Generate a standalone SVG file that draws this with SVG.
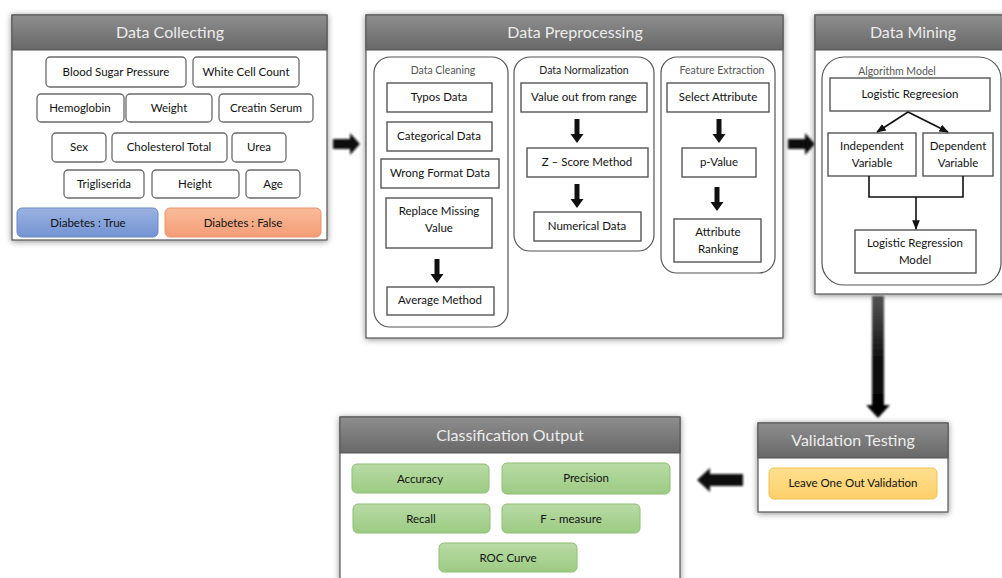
<svg xmlns="http://www.w3.org/2000/svg" width="1002" height="578" viewBox="0 0 1002 578">
<defs>
<linearGradient id="hdr" x1="0" y1="0" x2="0" y2="1"><stop offset="0" stop-color="#8e8e8e"/><stop offset="1" stop-color="#686868"/></linearGradient>
<linearGradient id="blue" x1="0" y1="0" x2="0" y2="1"><stop offset="0" stop-color="#9bb3e2"/><stop offset="1" stop-color="#7393d2"/></linearGradient>
<linearGradient id="orange" x1="0" y1="0" x2="0" y2="1"><stop offset="0" stop-color="#f9bb9a"/><stop offset="1" stop-color="#f39d76"/></linearGradient>
<linearGradient id="green" x1="0" y1="0" x2="0" y2="1"><stop offset="0" stop-color="#b8dba5"/><stop offset="1" stop-color="#9ccb82"/></linearGradient>
<linearGradient id="yellow" x1="0" y1="0" x2="0" y2="1"><stop offset="0" stop-color="#ffe08f"/><stop offset="1" stop-color="#fdd06a"/></linearGradient>
<linearGradient id="bigv" x1="0" y1="0" x2="0" y2="1"><stop offset="0" stop-color="#555"/><stop offset="0.5" stop-color="#111"/><stop offset="1" stop-color="#000"/></linearGradient>
<filter id="sh" x="-10%" y="-10%" width="120%" height="120%"><feDropShadow dx="0" dy="1" stdDeviation="3" flood-color="#000" flood-opacity="0.45"/></filter>
<filter id="soft" x="-20%" y="-20%" width="140%" height="140%"><feGaussianBlur stdDeviation="0.8"/></filter>
<marker id="ah" viewBox="0 0 10 10" refX="9" refY="5" markerWidth="6" markerHeight="6" orient="auto"><path d="M0,1 L10,5 L0,9 Z" fill="#111"/></marker>
<path id="dn" d="M-2.5,0 H2.5 V15 H6.5 L0,24 L-6.5,15 H-2.5 Z" fill="#111"/>
<style>
.panel{fill:#fff;stroke:#555;stroke-width:1.2}
.hdr{fill:url(#hdr);stroke:#555;stroke-width:1}
.title{font-family:Lato,"Liberation Sans",sans-serif;font-size:16px;fill:#ececec;text-anchor:middle}
.t{font-family:Lato,"Liberation Sans",sans-serif;font-size:11.5px;fill:#111;text-anchor:middle}
.lbl{font-family:Lato,"Liberation Sans",sans-serif;font-size:10.5px;fill:#555;text-anchor:middle}
.item{fill:#fff;stroke:#6a6a6a;stroke-width:1.3}
.box{fill:#fff;stroke:#555;stroke-width:1.4}
.grp{fill:#fff;stroke:#555;stroke-width:1.2}
.gr{fill:url(#green);stroke:#8cbf72;stroke-width:1}
.ln{fill:none;stroke:#111;stroke-width:1.6}
</style>
</defs>
<rect width="1002" height="578" fill="#fff"/>

<g id="connectors">
<path d="M333,139 H350 V133 L360,144 L350,155 V149 H333 Z" fill="#111" filter="url(#soft)"/>
<path d="M788,139 H805 V133 L815,144 L805,155 V149 H788 Z" fill="#111" filter="url(#soft)"/>
<path d="M872,296 H884 V405 H890 L878,418 L866,405 H872 Z" fill="url(#bigv)" filter="url(#soft)"/>
<path d="M743,474 V486 H710 V492 L697,480 L710,468 V474 Z" fill="#111" filter="url(#soft)"/>
</g>

<g id="data-collecting">
<rect class="panel" x="12" y="15" width="315" height="225" filter="url(#sh)"/>
<rect class="hdr" x="12" y="15" width="315" height="35"/>
<text class="title" x="170" y="38">Data Collecting</text>
<rect class="item" x="46" y="57" width="140" height="30" rx="4"/><text class="t" x="116" y="76">Blood Sugar Pressure</text>
<rect class="item" x="193" y="57" width="106" height="30" rx="4"/><text class="t" x="246" y="76">White Cell Count</text>
<rect class="item" x="37" y="94" width="87" height="28" rx="4"/><text class="t" x="80" y="112">Hemoglobin</text>
<rect class="item" x="126" y="94" width="86" height="28" rx="4"/><text class="t" x="169" y="112">Weight</text>
<rect class="item" x="219" y="94" width="94" height="28" rx="4"/><text class="t" x="266" y="112">Creatin Serum</text>
<rect class="item" x="52" y="133" width="54" height="29" rx="4"/><text class="t" x="79" y="151">Sex</text>
<rect class="item" x="112" y="133" width="115" height="29" rx="4"/><text class="t" x="169" y="151">Cholesterol Total</text>
<rect class="item" x="232" y="133" width="54" height="29" rx="4"/><text class="t" x="259" y="151">Urea</text>
<rect class="item" x="64" y="170" width="80" height="28" rx="4"/><text class="t" x="104" y="188">Trigliserida</text>
<rect class="item" x="152" y="170" width="87" height="28" rx="4"/><text class="t" x="195" y="188">Height</text>
<rect class="item" x="246" y="170" width="54" height="28" rx="4"/><text class="t" x="273" y="188">Age</text>
<rect x="17" y="208" width="141" height="29" rx="5" fill="url(#blue)" stroke="#6c89c6"/><text class="t" x="88" y="227">Diabetes : True</text>
<rect x="165" y="208" width="156" height="29" rx="5" fill="url(#orange)" stroke="#e9936c"/><text class="t" x="243" y="227">Diabetes : False</text>
</g>

<g id="data-preprocessing">
<rect class="panel" x="366" y="15" width="417" height="323" filter="url(#sh)"/>
<rect class="hdr" x="366" y="15" width="417" height="35"/>
<text class="title" x="575" y="38">Data Preprocessing</text>
<g id="data-cleaning">
<rect class="grp" x="374" y="57" width="134" height="270" rx="16"/>
<text class="lbl" x="443" y="74">Data Cleaning</text>
<rect class="box" x="387" y="83" width="105" height="29"/><text class="t" x="439" y="101">Typos Data</text>
<rect class="box" x="387" y="122" width="105" height="29"/><text class="t" x="439" y="140">Categorical Data</text>
<rect class="box" x="381" y="159" width="118" height="29"/><text class="t" x="440" y="177">Wrong Format Data</text>
<rect class="box" x="386" y="198" width="106" height="50"/><text class="t" x="439" y="215">Replace Missing</text><text class="t" x="439" y="232">Value</text>
<use href="#dn" x="437" y="259"/>
<rect class="box" x="387" y="287" width="107" height="28"/><text class="t" x="440" y="304">Average Method</text>
</g>
<g id="data-normalization">
<rect class="grp" x="514" y="57" width="140" height="194" rx="16"/>
<text class="lbl" x="584" y="74" style="fill:#222">Data Normalization</text>
<rect class="box" x="521" y="83" width="126" height="29"/><text class="t" x="584" y="101">Value out from range</text>
<use href="#dn" x="577" y="119"/>
<rect class="box" x="527" y="148" width="121" height="29"/><text class="t" x="587" y="166">Z – Score Method</text>
<use href="#dn" x="577" y="184"/>
<rect class="box" x="534" y="212" width="107" height="29"/><text class="t" x="587" y="230">Numerical Data</text>
</g>
<g id="feature-extraction">
<rect class="grp" x="661" y="57" width="114" height="216" rx="16"/>
<text class="lbl" x="722" y="74">Feature Extraction</text>
<rect class="box" x="667" y="83" width="102" height="29"/><text class="t" x="718" y="101">Select Attribute</text>
<use href="#dn" x="719" y="119"/>
<rect class="box" x="682" y="148" width="74" height="29"/><text class="t" x="719" y="166">p-Value</text>
<use href="#dn" x="717" y="187"/>
<rect class="box" x="674" y="219" width="87" height="43"/><text class="t" x="718" y="236">Attribute</text><text class="t" x="718" y="253">Ranking</text>
</g>
</g>

<g id="data-mining">
<rect class="panel" x="815" y="15" width="200" height="279" filter="url(#sh)"/>
<rect class="hdr" x="815" y="15" width="200" height="35"/>
<text class="title" x="913" y="38">Data Mining</text>
<rect class="grp" x="822" y="57" width="179" height="228" rx="22"/>
<text class="lbl" x="897" y="75">Algorithm Model</text>
<rect class="box" x="830" y="78" width="160" height="33"/><text class="t" x="910" y="98">Logistic Regreesion</text>
<rect class="box" x="828" y="133" width="88" height="43"/><text class="t" x="872" y="150">Independent</text><text class="t" x="872" y="167">Variable</text>
<rect class="box" x="923" y="133" width="70" height="43"/><text class="t" x="958" y="150">Dependent</text><text class="t" x="958" y="167">Variable</text>
<rect class="box" x="855" y="230" width="121" height="43"/><text class="t" x="915" y="247">Logistic Regression</text><text class="t" x="915" y="264">Model</text>
</g>

<g id="mining-connectors">
<path class="ln" d="M908,112 L877,132" marker-end="url(#ah)"/>
<path class="ln" d="M908,112 L948,132" marker-end="url(#ah)"/>
<path class="ln" d="M869,176 V197 H963 V176"/>
<path class="ln" d="M916,197 V229" marker-end="url(#ah)"/>
</g>

<g id="validation-testing">
<rect class="panel" x="758" y="423" width="190" height="89" filter="url(#sh)"/>
<rect class="hdr" x="758" y="423" width="190" height="35"/>
<text class="title" x="853" y="446">Validation Testing</text>
<rect x="769" y="468" width="168" height="31" rx="5" fill="url(#yellow)" stroke="#f0c050"/>
<text class="t" x="853" y="487">Leave One Out Validation</text>
</g>

<g id="classification-output">
<rect class="panel" x="340" y="417" width="340" height="180" filter="url(#sh)"/>
<rect class="hdr" x="340" y="417" width="340" height="36"/>
<text class="title" x="510" y="441">Classification Output</text>
<rect class="gr" x="352" y="464" width="137" height="29" rx="5"/><text class="t" x="420" y="483">Accuracy</text>
<rect class="gr" x="502" y="463" width="168" height="31" rx="5"/><text class="t" x="586" y="482">Precision</text>
<rect class="gr" x="353" y="504" width="137" height="29" rx="5"/><text class="t" x="421" y="523">Recall</text>
<rect class="gr" x="502" y="504" width="138" height="29" rx="5"/><text class="t" x="571" y="523">F – measure</text>
<rect class="gr" x="439" y="543" width="138" height="29" rx="5"/><text class="t" x="508" y="562">ROC Curve</text>
</g>
</svg>
